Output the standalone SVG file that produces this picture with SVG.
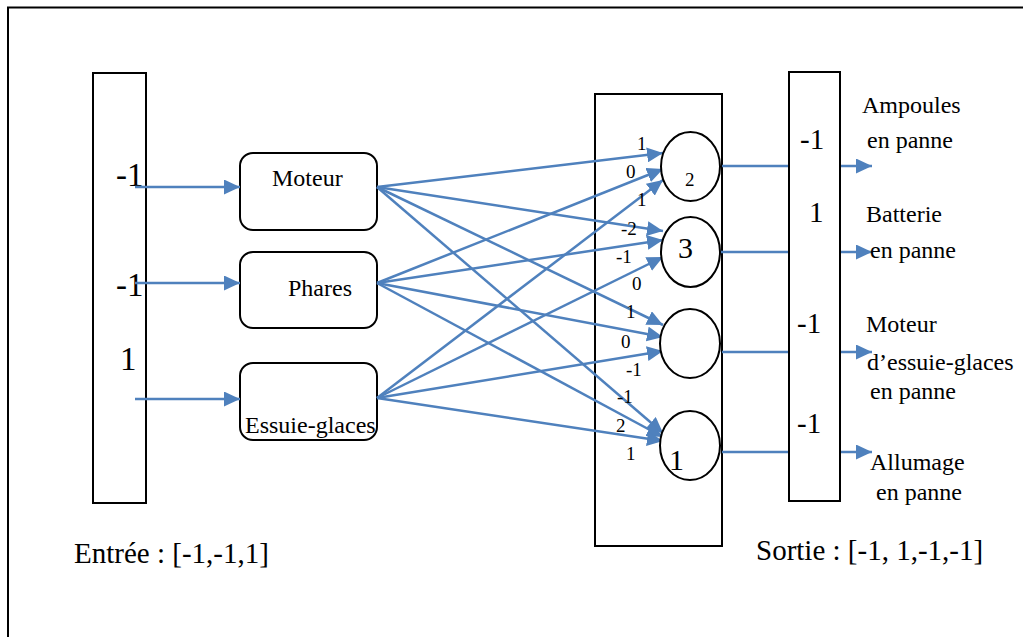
<svg xmlns="http://www.w3.org/2000/svg" width="1023" height="637" viewBox="0 0 1023 637">
  <style>
    .box { fill: #ffffff; stroke: #000000; stroke-width: 2; }
    .node { fill: #ffffff; stroke: #000000; stroke-width: 2; }
    .wire { stroke: #4F81BD; stroke-width: 2.5; fill: none; marker-end: url(#head); }
    text { font-family: "Liberation Serif", "Times New Roman", serif; fill: #000000; }
    .big { font-size: 33px; }
    .out { font-size: 29px; }
    .lbl { font-size: 24px; }
    .w { font-size: 19px; }
  </style>
  <defs>
    <marker id="head" markerUnits="userSpaceOnUse" markerWidth="16" markerHeight="15" refX="16" refY="7.5" orient="auto">
      <path d="M0,0 L16,7.5 L0,15 z" fill="#4F81BD"/>
    </marker>
  </defs>

  <rect width="1023" height="637" fill="#ffffff"/>
  <!-- page frame -->
  <rect x="8" y="7.5" width="1040" height="660" fill="none" stroke="#000000" stroke-width="2"/>

  <!-- input vector -->
  <g id="input">
    <rect class="box" x="93" y="73" width="53" height="430"/>
    <text class="big" x="116" y="186">-1</text>
    <text class="big" x="116" y="296">-1</text>
    <text class="big" x="120" y="370">1</text>
  </g>

  <!-- input neurons -->
  <g id="moteur">
    <rect class="node" x="240" y="153" width="137" height="77" rx="13"/>
    <text class="lbl" x="272" y="186">Moteur</text>
  </g>
  <g id="phares">
    <rect class="node" x="240" y="252" width="137" height="76" rx="13"/>
    <text class="lbl" x="288" y="296">Phares</text>
  </g>
  <g id="essuie-glaces">
    <rect class="node" x="240" y="363" width="137" height="77" rx="13"/>
    <text class="lbl" x="245" y="433">Essuie-glaces</text>
  </g>

  <!-- output layer container -->
  <g id="layer">
    <rect class="box" x="595" y="94" width="127" height="452"/>
  </g>

  <!-- connectors -->
  <g id="connectors">
    <line class="wire" x1="135" y1="187" x2="240" y2="187"/>
    <line class="wire" x1="135" y1="283" x2="240" y2="283"/>
    <line class="wire" x1="135" y1="399" x2="240" y2="399"/>

    <line class="wire" x1="377" y1="187" x2="663" y2="153"/>
    <line class="wire" x1="377" y1="187" x2="663" y2="231"/>
    <line class="wire" x1="377" y1="187" x2="663" y2="325"/>
    <line class="wire" x1="377" y1="187" x2="663" y2="433"/>

    <line class="wire" x1="377" y1="283" x2="663" y2="169"/>
    <line class="wire" x1="377" y1="283" x2="663" y2="240"/>
    <line class="wire" x1="377" y1="283" x2="663" y2="337"/>
    <line class="wire" x1="377" y1="283" x2="663" y2="437"/>

    <line class="wire" x1="377" y1="398" x2="663" y2="180"/>
    <line class="wire" x1="377" y1="398" x2="663" y2="257"/>
    <line class="wire" x1="377" y1="398" x2="663" y2="351"/>
    <line class="wire" x1="377" y1="398" x2="663" y2="441"/>

    <line class="wire" x1="722" y1="166" x2="872" y2="166"/>
    <line class="wire" x1="720" y1="252" x2="872" y2="252"/>
    <line class="wire" x1="722" y1="352" x2="872" y2="352"/>
    <line class="wire" x1="722" y1="452" x2="872" y2="452"/>
  </g>

  <!-- weights -->
  <g id="weights" class="w">
    <text class="w" x="637" y="150">1</text>
    <text class="w" x="626" y="178">0</text>
    <text class="w" x="637" y="206">1</text>
    <text class="w" x="621" y="235">-2</text>
    <text class="w" x="616" y="263">-1</text>
    <text class="w" x="632" y="290">0</text>
    <text class="w" x="626" y="318">1</text>
    <text class="w" x="621" y="348">0</text>
    <text class="w" x="626" y="376">-1</text>
    <text class="w" x="617" y="403">-1</text>
    <text class="w" x="616" y="432">2</text>
    <text class="w" x="626" y="460">1</text>
  </g>

  <!-- output neurons -->
  <g id="n-ampoules">
    <ellipse class="node" cx="690.5" cy="166.5" rx="29.5" ry="34.5"/>
    <text class="w" x="685" y="186">2</text>
  </g>
  <g id="n-batterie">
    <ellipse class="node" cx="690.5" cy="252" rx="29.5" ry="35"/>
    <text style="font-size:30px" x="678" y="258">3</text>
  </g>
  <g id="n-moteur-eg">
    <ellipse class="node" cx="690" cy="343.5" rx="30" ry="34.5"/>
  </g>
  <g id="n-allumage">
    <ellipse class="node" cx="690" cy="445.5" rx="30" ry="34.5"/>
    <text style="font-size:30px" x="669" y="470">1</text>
  </g>

  <!-- output vector -->
  <g id="output">
    <rect class="box" x="789" y="72" width="51" height="429"/>
    <text class="out" x="800" y="149">-1</text>
    <text class="out" x="809" y="222">1</text>
    <text class="out" x="797" y="333">-1</text>
    <text class="out" x="797" y="433">-1</text>
  </g>

  <!-- output captions -->
  <g id="captions" class="lbl">
    <text class="lbl" x="862" y="113">Ampoules</text>
    <text class="lbl" x="867" y="148">en panne</text>
    <text class="lbl" x="866" y="222">Batterie</text>
    <text class="lbl" x="870" y="258">en panne</text>
    <text class="lbl" x="866" y="332">Moteur</text>
    <text class="lbl" x="867" y="370">d’essuie-glaces</text>
    <text class="lbl" x="870" y="399">en panne</text>
    <text class="lbl" x="870" y="470">Allumage</text>
    <text class="lbl" x="876" y="500">en panne</text>
  </g>

  <text class="out" x="74" y="563">Entrée : [-1,-1,1]</text>
  <text class="out" x="756" y="560">Sortie : [-1, 1,-1,-1]</text>
</svg>
